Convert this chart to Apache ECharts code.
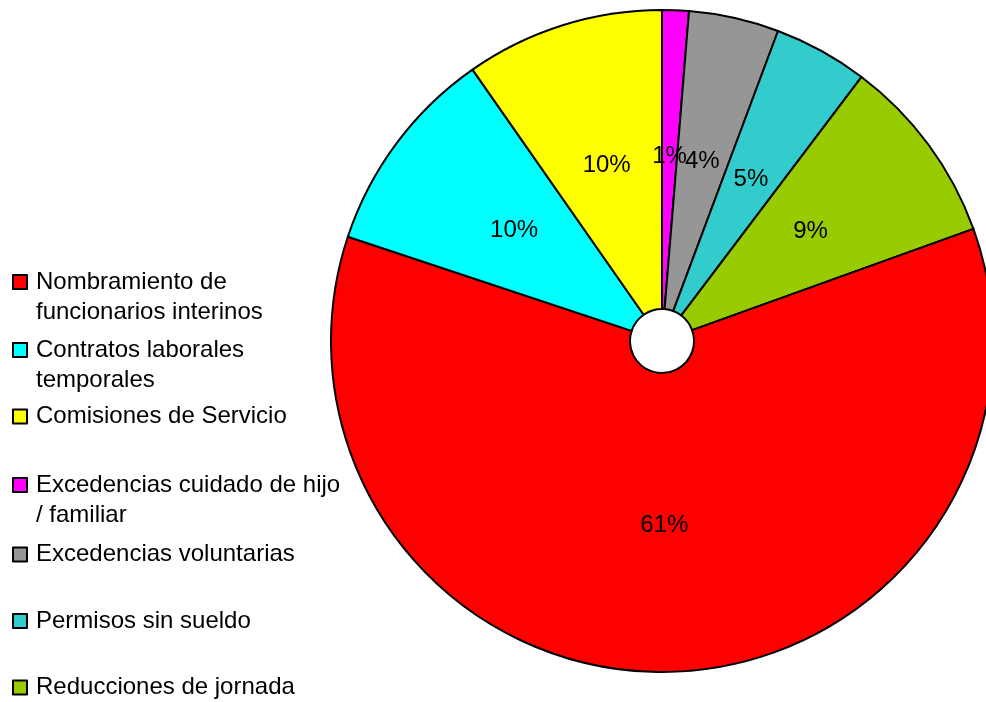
<!DOCTYPE html>
<html>
<head>
<meta charset="utf-8">
<script src="https://cdn.jsdelivr.net/npm/echarts@6/dist/echarts.min.js"></script>
<style>
html,body{margin:0;padding:0;background:#fff;}
#chart{width:986px;height:702px;}
</style>
</head>
<body>
<div id="chart"></div>
<script>
// Slices in clockwise order from 12 o'clock
const categories = [
  'Excedencias cuidado de hijo / familiar',
  'Excedencias voluntarias',
  'Permisos sin sueldo',
  'Reducciones de jornada',
  'Nombramiento de funcionarios interinos',
  'Contratos laborales temporales',
  'Comisiones de Servicio'
];
const values = [1.3, 4.4, 4.6, 9.2, 60.6, 10.2, 9.7];
const colors = ['#FF00FF', '#969696', '#33CCCC', '#99CC00', '#FF0000', '#00FFFF', '#FFFF00'];

// Legend order and how each legend label wraps
const legendOrder = [
  'Nombramiento de funcionarios interinos',
  'Contratos laborales temporales',
  'Comisiones de Servicio',
  'Excedencias cuidado de hijo / familiar',
  'Excedencias voluntarias',
  'Permisos sin sueldo',
  'Reducciones de jornada'
];
const legendLabels = [
  'Nombramiento de\nfuncionarios interinos',
  'Contratos laborales\ntemporales',
  'Comisiones de Servicio',
  'Excedencias cuidado de hijo\n/ familiar',
  'Excedencias voluntarias',
  'Permisos sin sueldo',
  'Reducciones de jornada'
];

const FONT = '"Liberation Sans", Arial, Helvetica, sans-serif';
const legendIconCenters = [282, 350, 416.5, 485, 554.5, 621, 687.5];

const legends = legendOrder.map(function (name, i) {
  const twoLine = legendLabels[i].indexOf('\n') >= 0;
  // a leading empty line keeps the icon level with the first text line
  const txt = twoLine ? ' \n' + legendLabels[i] : legendLabels[i];
  return {
    show: true,
    orient: 'vertical',
    left: 12,
    top: legendIconCenters[i] - (twoLine ? 45 : 15),
    padding: 0,
    itemWidth: 14,
    itemHeight: 14,
    icon: 'rect',
    selectedMode: false,
    data: [name],
    formatter: function () { return txt; },
    textStyle: {
      color: '#000',
      fontSize: 24,
      fontFamily: FONT,
      lineHeight: 30,
      padding: [0, 0, 0, 4]
    }
  };
});

const chart = echarts.init(document.getElementById('chart'), null, {renderer: 'canvas'});
chart.setOption({
  animation: false,
  backgroundColor: '#fff',
  legend: legends,
  series: [{
    type: 'pie',
    center: [662, 341],
    radius: [32, 331],
    startAngle: 90,
    clockwise: true,
    avoidLabelOverlap: false,
    silent: true,
    data: categories.map(function (c, i) {
      return {name: c, value: values[i], itemStyle: {color: colors[i]}};
    }),
    itemStyle: {borderColor: '#000', borderWidth: 2},
    label: {
      show: true,
      position: 'inside',
      color: '#000',
      fontSize: 24,
      fontFamily: FONT,
      textBorderWidth: 0,
      formatter: function (p) { return Math.round(p.percent) + '%'; }
    },
    labelLayout: {hideOverlap: false},
    labelLine: {show: false},
    emphasis: {disabled: true}
  }]
});
</script>
</body>
</html>
